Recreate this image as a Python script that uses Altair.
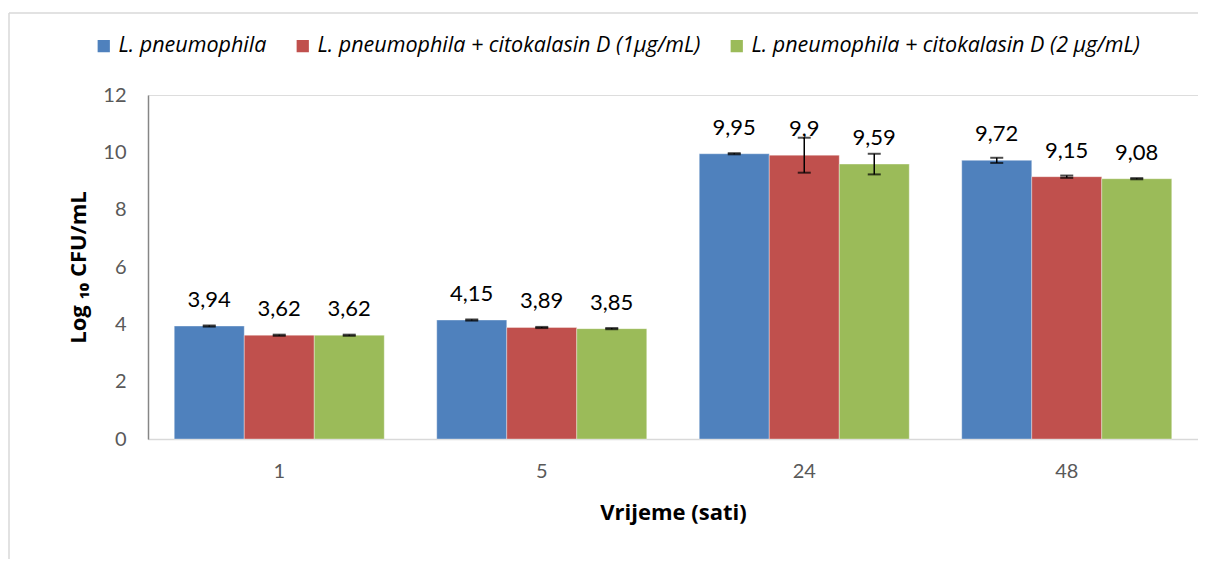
import altair as alt
import pandas as pd

times = ["1", "5", "24", "48"]
series = [
    "L. pneumophila",
    "L. pneumophila + citokalasin D (1µg/mL)",
    "L. pneumophila + citokalasin D (2 µg/mL)",
]
colors = ["#4F81BD", "#C0504D", "#9BBB59"]
values = [
    [3.94, 4.15, 9.95, 9.72],
    [3.62, 3.89, 9.90, 9.15],
    [3.62, 3.85, 9.59, 9.08],
]
labels = [
    ["3,94", "4,15", "9,95", "9,72"],
    ["3,62", "3,89", "9,9", "9,15"],
    ["3,62", "3,85", "9,59", "9,08"],
]
errors = [
    [0.02, 0.02, 0.02, 0.09],
    [0.02, 0.02, 0.61, 0.04],
    [0.02, 0.02, 0.36, 0.02],
]

rows = []
for si, s in enumerate(series):
    for ti, t in enumerate(times):
        v = values[si][ti]
        e = errors[si][ti]
        rows.append({"time": t, "series": s, "value": v, "label": labels[si][ti],
                     "lo": v - e, "hi": v + e})
df = pd.DataFrame(rows)

FONT = "Lato"
TFONT = "Open Sans"
W, H = 1050, 344

x = alt.X("time:N", sort=times,
          scale=alt.Scale(paddingInner=0.2, paddingOuter=0.1),
          axis=alt.Axis(title="Vrijeme (sati)", labelAngle=0, ticks=False,
                        labelFontSize=20, labelColor="#595959", labelPadding=22,
                        labelFont=FONT, domainColor="#D9D9D9", domainWidth=1.5,
                        titleFont=TFONT, titleFontSize=22, titleFontWeight="bold",
                        titleY=73, titleBaseline="middle", titleColor="#000000"))
xo = alt.XOffset("series:N", sort=series, scale=alt.Scale(paddingInner=0))
yscale = alt.Scale(domain=[0, 12], nice=False)

base = alt.Chart(df)

bars = base.mark_bar(stroke="#FFFFFF", strokeOpacity=0.35, strokeWidth=1).encode(
    x=x, xOffset=xo,
    y=alt.Y("value:Q", scale=yscale,
            axis=alt.Axis(title="Log ₁₀  CFU/mL", values=[0, 2, 4, 6, 8, 10, 12],
                          grid=False, ticks=False, labelFontSize=20,
                          labelColor="#595959", labelFont=FONT, labelPadding=22,
                          domainColor="#868686", domainWidth=1.5,
                          titleFont=TFONT, titleFontSize=22, titleFontWeight="bold",
                          titleColor="#000000", titleX=-70, titleY=172,
                          titleAlign="center", titleBaseline="middle")),
    color=alt.Color("series:N", sort=series,
                    scale=alt.Scale(domain=series, range=colors),
                    legend=alt.Legend(title=None, orient="none", direction="horizontal",
                                      legendX=-55, legendY=-60,
                                      symbolType="square", symbolSize=150,
                                      symbolStrokeWidth=0, labelFont=TFONT,
                                      labelFontSize=21.5, labelFontStyle="italic",
                                      labelColor="#000000", columnPadding=25,
                                      labelOffset=4, labelLimit=600)),
)

err = base.mark_rule(color="#000000", strokeWidth=1.5).encode(
    x=x, xOffset=xo, y="lo:Q", y2="hi:Q")
cap_lo = base.mark_tick(color="#000000", size=13, thickness=2).encode(
    x=x, xOffset=xo, y="lo:Q")
cap_hi = base.mark_tick(color="#000000", size=13, thickness=2).encode(
    x=x, xOffset=xo, y="hi:Q")

text = base.mark_text(font=FONT, fontSize=22, color="#000000",
                      baseline="alphabetic", dy=-19).encode(
    x=x, xOffset=xo, y="value:Q", text="label:N")

border_top = alt.Chart(pd.DataFrame({"d": [0]})).mark_rule(
    color="#D9D9D9", strokeWidth=1.5).encode(
    x=alt.value(-139), x2=alt.value(W + 20), y=alt.value(-82))
border_left = alt.Chart(pd.DataFrame({"d": [0]})).mark_rule(
    color="#D9D9D9", strokeWidth=1.5).encode(
    x=alt.value(-139), y=alt.value(-82), y2=alt.value(H + 130))

chart = alt.layer(bars, err, cap_lo, cap_hi, text, border_top, border_left).properties(
    width=W, height=H,
    autosize=alt.AutoSizeParams(type="none"),
    padding={"left": 140, "top": 87, "right": 0, "bottom": 120},
).configure_view(stroke=None).configure(background="#FFFFFF")

chart.save("out.html", embed_options={"renderer": "svg", "actions": False})
